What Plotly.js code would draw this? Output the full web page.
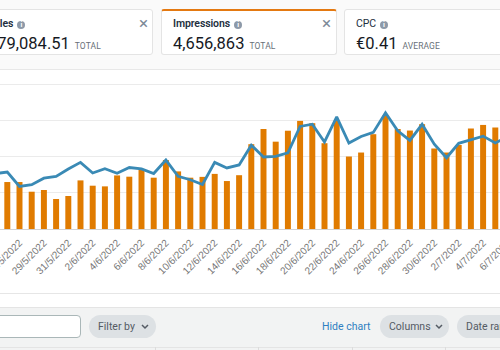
<!DOCTYPE html>
<html><head><meta charset="utf-8">
<script src="https://cdn.plot.ly/plotly-3.0.1.min.js"></script>
<style>
html,body{margin:0;padding:0;width:500px;height:350px;overflow:hidden;background:#fff;font-family:Roboto,"Liberation Sans",Arial,sans-serif;}
#top{position:absolute;left:0;top:0;width:500px;height:69px;background:#fafafa;border-bottom:1px solid #e8e8e8;}
.card{position:absolute;top:9px;height:46px;background:#fff;border:1px solid #e4e4e4;border-radius:3px;box-sizing:border-box;}
.ttl{position:absolute;top:7px;font-size:10.5px;font-weight:600;color:#232f3e;white-space:nowrap;letter-spacing:-0.1px;}
.info{display:inline-block;width:8px;height:8px;border-radius:50%;background:#8d99a8;color:#fff;font-size:7px;line-height:8px;text-align:center;font-weight:700;vertical-align:0px;margin-left:4px;}
.val{position:absolute;top:24px;font-size:16.5px;color:#16191f;white-space:nowrap;}
.val small{font-size:8.5px;color:#687078;margin-left:5px;letter-spacing:0.1px;}
.x{position:absolute;top:3px;font-size:17px;color:#7d8998;}
#chart{position:absolute;left:-40px;top:70px;width:580px;height:223px;}
#sep1{position:absolute;left:0;top:293px;width:500px;height:1px;background:#e6e6e6;}
#bar{position:absolute;left:0;top:307px;width:500px;height:43px;background:#f2f3f3;border-top:1px solid #e4e4e4;}
.pill{position:absolute;top:7px;height:23px;border-radius:12px;background:#dde1e4;font-size:10.5px;color:#545b64;line-height:23px;box-sizing:border-box;padding-left:9px;white-space:nowrap;}
.pill svg{position:absolute;top:9px;}
#inp{position:absolute;left:-60px;top:7px;width:141px;height:23px;background:#fff;border:1px solid #aab7b8;border-radius:4px;box-sizing:border-box;}
#hide{position:absolute;left:322px;top:7px;line-height:23px;font-size:10.5px;color:#2f7fc1;}
.vs{position:absolute;top:39px;width:1px;height:4px;background:#dcdcdc;}
#hl{position:absolute;left:0;top:39px;width:500px;height:1px;background:#e4e4e4;}
</style></head>
<body>
<div id="top">
  <div class="card" style="left:-40px;width:193px;">
    <div class="ttl" style="left:27px;">Sales<span class="info">i</span></div>
    <div class="x" style="left:178px;">×</div>
    <div class="val" style="left:27px;">€79,084.51<small>TOTAL</small></div>
  </div>
  <div class="card" style="left:161px;width:176px;border-top:2px solid #e47911;">
    <div class="ttl" style="left:11px;top:6px;">Impressions<span class="info">i</span></div>
    <div class="x" style="left:160px;top:2px;">×</div>
    <div class="val" style="left:11px;top:23px;">4,656,863<small>TOTAL</small></div>
  </div>
  <div class="card" style="left:344px;width:180px;">
    <div class="ttl" style="left:11px;font-weight:400;">CPC<span class="info">i</span></div>
    <div class="val" style="left:11px;">€0.41<small>AVERAGE</small></div>
  </div>
</div>
<div id="chart"></div>
<div id="sep1"></div>
<div id="bar">
  <div id="inp"></div>
  <div class="pill" style="left:89px;width:67px;">Filter by<svg style="left:52px" width="8" height="6"><polyline points="1,1 4,4 7,1" fill="none" stroke="#545b64" stroke-width="1.5"/></svg></div>
  <div id="hide">Hide chart</div>
  <div class="pill" style="left:380px;width:69px;">Columns<svg style="left:55px" width="8" height="6"><polyline points="1,1 4,4 7,1" fill="none" stroke="#545b64" stroke-width="1.5"/></svg></div>
  <div class="pill" style="left:457px;width:90px;">Date range</div>
  <div id="hl"></div>
  <div class="vs" style="left:155px"></div>
  <div class="vs" style="left:258px"></div>
  <div class="vs" style="left:352px"></div>
  <div class="vs" style="left:445px"></div>
</div>
<script>
const dates = ['2022-05-25','2022-05-26','2022-05-27','2022-05-28','2022-05-29','2022-05-30','2022-05-31',
'2022-06-01','2022-06-02','2022-06-03','2022-06-04','2022-06-05','2022-06-06','2022-06-07','2022-06-08','2022-06-09','2022-06-10',
'2022-06-11','2022-06-12','2022-06-13','2022-06-14','2022-06-15','2022-06-16','2022-06-17','2022-06-18','2022-06-19','2022-06-20',
'2022-06-21','2022-06-22','2022-06-23','2022-06-24','2022-06-25','2022-06-26','2022-06-27','2022-06-28','2022-06-29','2022-06-30',
'2022-07-01','2022-07-02','2022-07-03','2022-07-04','2022-07-05','2022-07-06'];
const impressions = [50000,51900,51900,41200,43100,33150,36500,
53700,47850,47100,59200,57800,65500,56700,76200,63650,56700,
57600,60900,53000,59450,93700,110500,96500,108600,119450,116900,
94800,119700,80100,84500,104750,125400,110500,108800,115800,88950,
84500,92800,111050,115000,112150,110000];
const sales = [916,945,706,734,842,872,994,
1104,928,999,925,1019,996,920,1143,872,817,
737,1104,1012,1062,1389,1193,1203,1264,1700,1737,
1443,1858,1425,1534,1601,1927,1626,1468,1735,1405,
1181,1420,1486,1539,1425,1529];

const DAY = 86400000;
const traces = [
  {type:'bar', x:dates, y:impressions, name:'Impressions', marker:{color:'#e07b00'}, width:0.49*DAY, hoverinfo:'skip'},
  {type:'scatter', mode:'lines', x:dates, y:sales, name:'Sales', yaxis:'y2', line:{color:'#3a8ab5', width:2.8}, hoverinfo:'skip'}
];
const layout = {
  width:580, height:223,
  margin:{l:0, r:0, t:6, b:64},
  paper_bgcolor:'rgba(0,0,0,0)', plot_bgcolor:'rgba(0,0,0,0)',
  showlegend:false,
  xaxis:{type:'date', range:['2022-05-22 02:57','2022-07-08 15:56'], tick0:'2022-05-27', dtick:2*DAY,
    tickformat:'%-d/%-m/%Y', tickangle:-45, ticks:'', showgrid:false, showline:true, linecolor:'#d3d3d3', linewidth:1,
    ticklabeloverflow:'allow', ticklabelstandoff:3,
    tickfont:{family:'Liberation Sans, Arial, sans-serif', size:10, color:'#777777'}, zeroline:false},
  yaxis:{range:[0,169061], dtick:40000, tick0:0, showticklabels:false, showgrid:true, gridcolor:'#ebebeb', zeroline:false, fixedrange:true},
  yaxis2:{range:[0,2536], overlaying:'y', side:'right', showticklabels:false, showgrid:false, zeroline:false},
  bargap:0.5
};
Plotly.newPlot('chart', traces, layout, {displayModeBar:false, staticPlot:true});
</script>
</body></html>
